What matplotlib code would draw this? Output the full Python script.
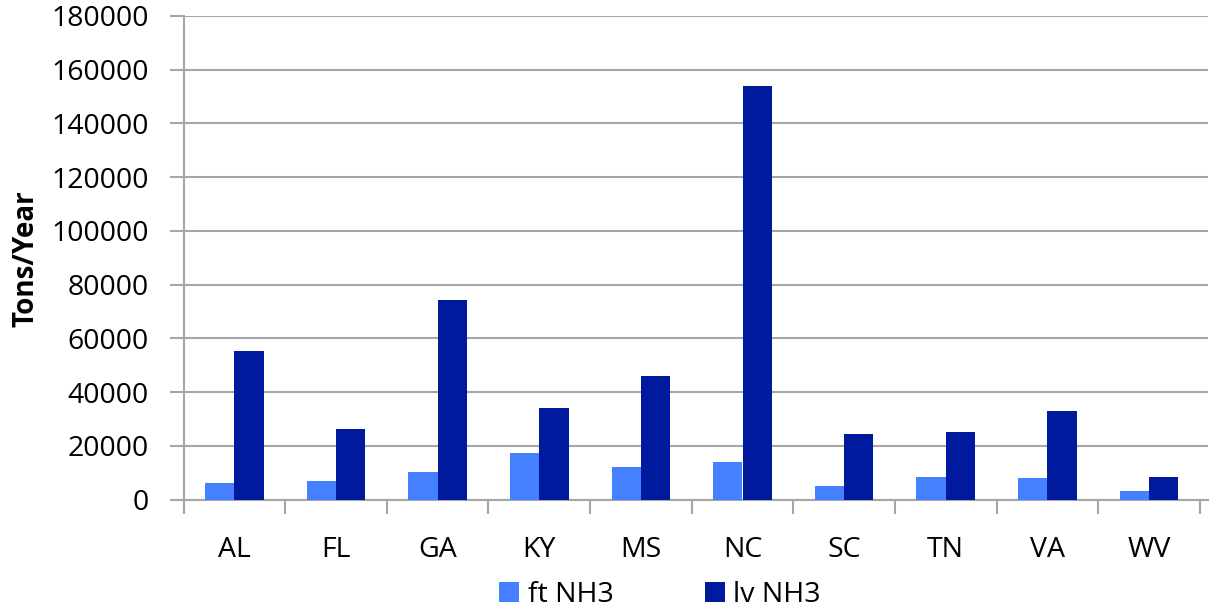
import matplotlib
matplotlib.use("Agg")
import matplotlib.pyplot as plt
import matplotlib.transforms as mtransforms
import numpy as np
from matplotlib.patches import Patch

states = ["AL", "FL", "GA", "KY", "MS", "NC", "SC", "TN", "VA", "WV"]
ft_nh3 = [6400, 6900, 10250, 17550, 12350, 14000, 5000, 8450, 8100, 3400]
lv_nh3 = [55450, 26150, 74400, 34000, 46000, 154000, 24400, 25150, 33000, 8450]
yticks = [0, 20000, 40000, 60000, 80000, 100000, 120000, 140000, 160000, 180000]

c_ft = "#4480FF"
c_lv = "#001A9E"
grid_c = "#A6A6A6"

plt.rcParams['font.family'] = ['Open Sans', 'DejaVu Sans']

W, H = 1210, 611
fig = plt.figure(figsize=(W / 100, H / 100), dpi=100)
left, right, bottom, top = 183.7, 1208, 499.7, 16
ax = fig.add_axes([left / W, 1 - bottom / H, (right - left) / W, (bottom - top) / H])

x = np.arange(len(states))
bw = 0.288
ax.bar(x - bw / 2, ft_nh3, width=bw, color=c_ft, zorder=3)
ax.bar(x + bw / 2, lv_nh3, width=bw, color=c_lv, zorder=3)

ax.set_ylim(0, 180000)
ax.set_xlim(-0.5, 9.5 + (right - 1199.7) / 101.6)
ax.set_yticks(yticks)
ax.set_yticklabels([str(v) for v in yticks], fontsize=20.5, color="black")
ax.yaxis.grid(True, color=grid_c, linewidth=1.5, zorder=0)

shift = mtransforms.ScaledTranslation(0, -4 / 100, fig.dpi_scale_trans)
for lbl in ax.get_yticklabels():
    lbl.set_transform(lbl.get_transform() + shift)

ax.set_xticks(x)
ax.set_xticklabels(states, fontsize=20.5, color="black")
ax.set_xticks(np.arange(-0.5, 9.6, 1.0), minor=True)
ax.tick_params(axis='x', which='major', length=0, pad=26)
ax.tick_params(axis='x', which='minor', length=10, width=1.5, color=grid_c, direction='out')
ax.tick_params(axis='y', length=10, width=1.5, color=grid_c, direction='out', pad=15)

for s in ["top", "right"]:
    ax.spines[s].set_visible(False)
for s in ["left", "bottom"]:
    ax.spines[s].set_color(grid_c)
    ax.spines[s].set_linewidth(1.5)

fig.text(26 / W, 1 - 259 / H, "Tons/Year", rotation=90, fontsize=20, fontweight="bold",
         ha="center", va="center")

handles = [Patch(facecolor=c_ft, label="ft NH3"), Patch(facecolor=c_lv, label="lv NH3")]
fig.legend(handles=handles, loc="center", bbox_to_anchor=(660 / W, 1 - 595 / H), ncol=2,
           frameon=False, fontsize=20.5, handlelength=0.7, handleheight=0.7,
           handletextpad=0.3, columnspacing=3.2)

fig.savefig("out.png", dpi=100)
